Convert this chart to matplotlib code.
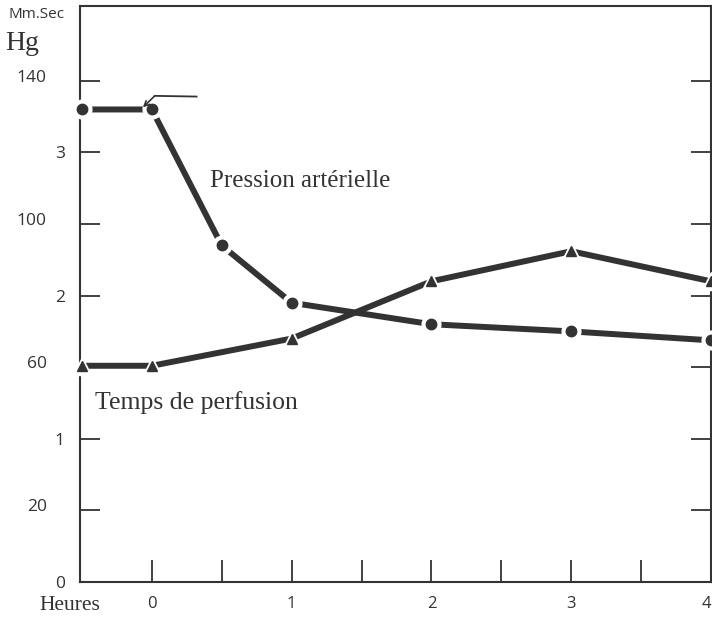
import matplotlib
matplotlib.use("Agg")
import matplotlib.pyplot as plt
import matplotlib.transforms as mtransforms

# hours after start of perfusion (-0.5 = before)
hours = [-0.5, 0, 0.5, 1, 2, 3, 4]
pression = [132, 132, 94, 78, 72, 70, 67.5]          # mm Hg

hours_perf = [-0.5, 0, 1, 2, 3, 4]
temps_perf = [1.51, 1.51, 1.70, 2.10, 2.31, 2.10]    # seconds

mmhg_ticks = [0, 20, 40, 60, 80, 100, 120, 140]
mmhg_labels = ["", "20", "", "60", "", "100", "", "140"]
sec_ticks = [0, 1, 2, 3]
hour_ticks = [0, 0.5, 1, 1.5, 2, 2.5, 3, 3.5, 4]
hour_labels = ["0", "", "1", "", "2", "", "3", "", "4"]

ink = "#333333"
serif = "Liberation Serif"
hand = "Open Sans"

fig = plt.figure(figsize=(7.12, 6.18), dpi=100)
ax = fig.add_axes([80 / 712, 36 / 618, 631 / 712, 576 / 618])
ax.set_xlim(-0.514, 4.0)
ax.set_ylim(0, 160.9)

for s in ax.spines.values():
    s.set_color(ink)
    s.set_linewidth(1.5)

# curves: thick line, white halo behind each point, then the point
def curve(x, y, marker, size):
    ax.plot(x, y, color=ink, lw=4.3, solid_capstyle="butt", zorder=3, clip_on=False)
    ax.plot(x, y, ls="none", marker=marker, ms=size + 6, color="white", zorder=4, clip_on=False)
    ax.plot(x, y, ls="none", marker=marker, ms=size, color=ink, zorder=5, clip_on=False)

curve(hours, pression, "o", 7.5)
curve(hours_perf, [t * 40 for t in temps_perf], "^", 7.5)

# axis ticks
ax.set_yticks(mmhg_ticks)
ax.set_yticklabels(mmhg_labels, fontfamily=hand, fontsize=12.5, color=ink)
ax.tick_params(axis="y", direction="in", length=14.5, width=1.3, color=ink,
               pad=24, left=True, right=True)
shift = mtransforms.ScaledTranslation(0, 5 / 100, fig.dpi_scale_trans)
for lab in ax.get_yticklabels():
    lab.set_transform(lab.get_transform() + shift)

ax.set_xticks(hour_ticks)
ax.set_xticklabels(hour_labels, fontfamily=hand, fontsize=12, color=ink)
ax.tick_params(axis="x", direction="in", length=16, width=1.3, color=ink, pad=10)
ax.get_xticklabels()[-1].set_horizontalalignment("right")

sec = ax.secondary_yaxis("left", functions=(lambda m: m / 40, lambda s: s * 40))
sec.set_yticks(sec_ticks)
sec.set_yticklabels([str(t) for t in sec_ticks], fontfamily=hand, fontsize=12.5, color=ink)
sec.tick_params(length=0, pad=11)
sec.spines["left"].set_visible(False)

# units and labels
fig.text(9 / 712, 1 - 15 / 618, "Mm.Sec", fontfamily=hand, fontsize=11,
         color=ink, va="center", ha="left")
fig.text(5 / 712, 1 - 43 / 618, "Hg", fontfamily=serif, fontsize=20,
         color=ink, va="center", ha="left")
fig.text(39 / 712, 1 - 605 / 618, "Heures", fontfamily=serif, fontsize=15.5,
         color=ink, va="center", ha="left")

ax.text(0.414, 112, "Pression artérielle", fontfamily=serif, fontsize=18,
        color=ink, va="center", ha="left")
ax.text(-0.41, 50, "Temps de perfusion", fontfamily=serif, fontsize=18.5,
        color=ink, va="center", ha="left")

# pointer to the start of perfusion
ax.plot([0.021, 0.32], [135.8, 135.6], color=ink, lw=1.3, zorder=6)
ax.annotate("", xy=(-0.064, 132.6), xytext=(0.021, 135.8),
            arrowprops=dict(arrowstyle="->", color=ink, lw=1.2,
                            mutation_scale=9, shrinkA=0, shrinkB=0),
            zorder=6)

fig.savefig("out.png", dpi=100)
